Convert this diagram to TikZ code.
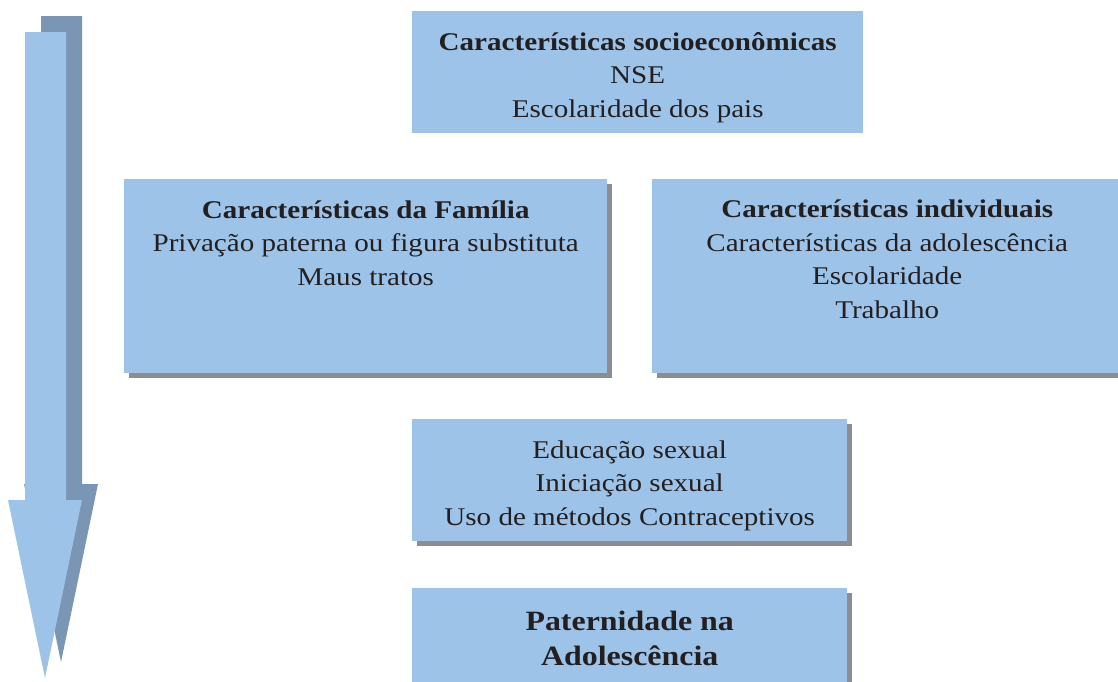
\documentclass[tikz,border=0pt]{standalone}
\usepackage{fontspec}
\setmainfont[FakeStretch=1.14]{Liberation Serif}
\usetikzlibrary{calc,shadows}
\definecolor{boxblue}{RGB}{157,196,232}
\definecolor{shadowgray}{RGB}{140,141,146}
\definecolor{arrowdark}{RGB}{122,150,180}
\definecolor{txtcol}{RGB}{35,31,32}
\tikzset{
  box/.style={rectangle, fill=boxblue, draw=none, inner sep=0pt, anchor=north west},
  shadowbox/.style={box, drop shadow={shadow xshift=5pt, shadow yshift=-5pt, fill=shadowgray, opacity=1}},
  txt/.style={align=center, inner sep=0pt, anchor=base, text=txtcol, font=\fontsize{25.5}{33.5}\selectfont},
  bigtxt/.style={txt, font=\fontsize{28}{35}\selectfont\bfseries}
}
\begin{document}
\begin{tikzpicture}[x=1pt,y=-1pt]
\useasboundingbox (0,0) rectangle (1118,681);
% arrow
\draw[fill=arrowdark, draw=none] (41,16) -- (82,16) -- (82,484) -- (98,484) -- (61,662) -- (24,484) -- (41,484) -- cycle;
\draw[fill=boxblue, draw=none] (25,32) -- (66,32) -- (66,500) -- (82,500) -- (45,678) -- (8,500) -- (25,500) -- cycle;
% boxes
\node[box, minimum width=451pt, minimum height=122pt] (socio) at (412,11) {};
\node[shadowbox, minimum width=483pt, minimum height=194pt] (fam) at (124,179) {};
\node[shadowbox, minimum width=470pt, minimum height=194pt] (ind) at (652,179) {};
\node[shadowbox, minimum width=435pt, minimum height=122pt] (sex) at (412,419) {};
\node[shadowbox, minimum width=435pt, minimum height=110pt] (pat) at (412,588) {};
% texts (anchored at the baseline of their last line)
\node[txt] (socioT) at ($(socio.north)+(0,106)$) {\textbf{Características socioeconômicas}\\NSE\\Escolaridade dos pais};
\node[txt] (famT) at ($(fam.north)+(0,106)$) {\textbf{Características da Família}\\Privação paterna ou figura substituta\\Maus tratos};
\node[txt] (indT) at ($(ind.north)+(0,139)$) {\textbf{Características individuais}\\Características da adolescência\\Escolaridade\\Trabalho};
\node[txt] (sexT) at ($(sex.north)+(0,106)$) {Educação sexual\\Iniciação sexual\\Uso de métodos Contraceptivos};
\node[bigtxt] (patT) at ($(pat.north)+(0,77)$) {Paternidade na\\Adolescência};
\end{tikzpicture}
\end{document}
